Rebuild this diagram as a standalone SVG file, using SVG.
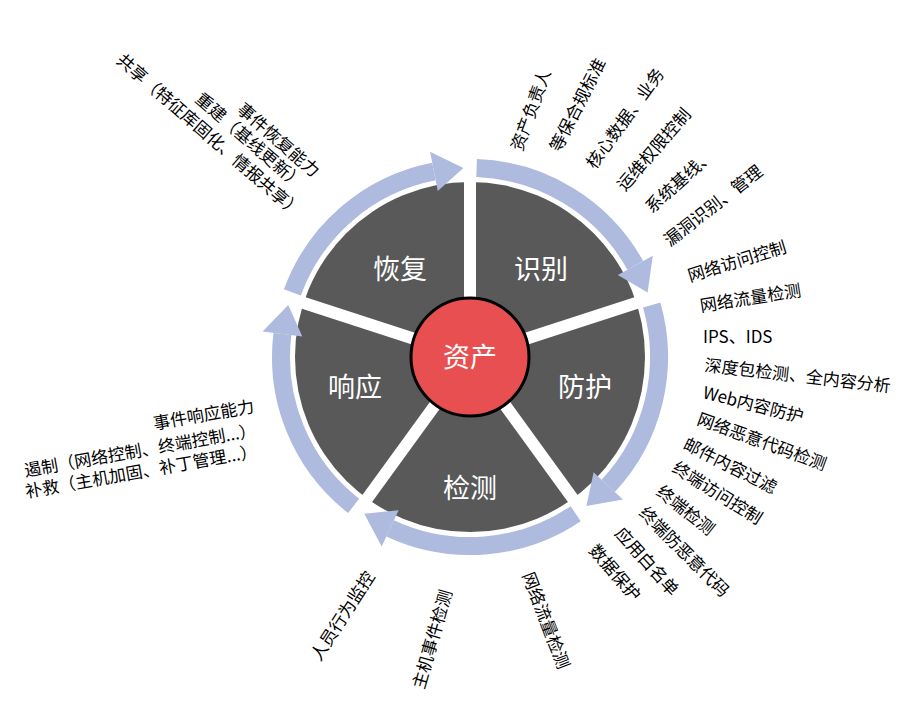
<svg xmlns="http://www.w3.org/2000/svg" width="918" height="720" viewBox="0 0 918 720">
<style>
.ring{fill:none;stroke:#aebbdf;stroke-width:18}
.head{fill:#aebbdf}
.gap{stroke:#fff;stroke-width:12}
.lbl{font-family:"Noto Sans CJK SC","Noto Sans",sans-serif;font-size:27px;fill:#fff;text-anchor:middle;dominant-baseline:central}
.t{font-family:"Noto Sans CJK SC","Noto Sans",sans-serif;font-size:17px;fill:#000}
.e{text-anchor:end}
</style>
<rect width="918" height="720" fill="#fff"/>
<g id="pie">
<circle cx="470" cy="357" r="175" fill="#595959"/>
<line class="gap" x1="470" y1="357" x2="470" y2="179"/>
<line class="gap" x1="470" y1="357" x2="639.3" y2="302"/>
<line class="gap" x1="470" y1="357" x2="574.6" y2="501"/>
<line class="gap" x1="470" y1="357" x2="365.4" y2="501"/>
<line class="gap" x1="470" y1="357" x2="300.7" y2="302"/>
</g>
<g id="connectors">
<path class="ring" d="M476.6 168.1 A189 189 0 0 1 635.3 265.4"/>
<polygon class="head" points="652.8,255.7 647.6,292.4 617.8,275.1"/>
<path class="ring" d="M651.7 304.9 A189 189 0 0 1 608.2 485.9"/>
<polygon class="head" points="622.9,499.5 586.4,505.9 593.6,472.3"/>
<path class="ring" d="M575.7 513.7 A189 189 0 0 1 390.1 528.3"/>
<polygon class="head" points="381.7,546.4 364.3,513.7 398.6,510.2"/>
<path class="ring" d="M353.6 505.9 A189 189 0 0 1 282.4 334"/>
<polygon class="head" points="262.6,331.5 288.3,304.9 302.3,336.4"/>
<path class="ring" d="M292.4 292.4 A189 189 0 0 1 433.9 171.5"/>
<polygon class="head" points="430.1,151.8 463.4,168.1 437.8,191.1"/>
</g>
<g id="n-identify"><text class="lbl" x="541" y="267">识别</text></g>
<g id="n-protect"><text class="lbl" x="585" y="385">防护</text></g>
<g id="n-detect"><text class="lbl" x="470" y="486">检测</text></g>
<g id="n-respond"><text class="lbl" x="355" y="385">响应</text></g>
<g id="n-recover"><text class="lbl" x="400" y="267">恢复</text></g>
<g id="n-asset">
<circle cx="470" cy="357" r="59" fill="#e84f51" stroke="#000" stroke-width="3"/>
<text class="lbl" x="470" y="355">资产</text>
</g>
<g id="identify-items">
<text class="t" transform="translate(522,152) rotate(-70)">资产负责人</text>
<text class="t" transform="translate(560,153) rotate(-63)">等保合规标准</text>
<text class="t" transform="translate(595,170) rotate(-54)">核心数据、业务</text>
<text class="t" transform="translate(625,192) rotate(-49)">运维权限控制</text>
<text class="t" transform="translate(652,214) rotate(-42)">系统基线、</text>
<text class="t" transform="translate(670,247) rotate(-38)">漏洞识别、管理</text>
</g>
<g id="protect-items">
<text class="t" transform="translate(690,282) rotate(-17)">网络访问控制</text>
<text class="t" transform="translate(701,312) rotate(-9)">网络流量检测</text>
<text class="t" transform="translate(703,343)">IPS、IDS</text>
<text class="t" transform="translate(704,371) rotate(6.5)">深度包检测、全内容分析</text>
<text class="t" transform="translate(702,398) rotate(14)">Web内容防护</text>
<text class="t" transform="translate(696,424) rotate(20)">网络恶意代码检测</text>
<text class="t" transform="translate(682,448) rotate(27)">邮件内容过滤</text>
<text class="t" transform="translate(671,471) rotate(32)">终端访问控制</text>
<text class="t" transform="translate(655,494) rotate(38)">终端检测</text>
<text class="t" transform="translate(638,514) rotate(45)">终端防恶意代码</text>
<text class="t" transform="translate(614,534) rotate(48)">应用白名单</text>
<text class="t" transform="translate(588,551) rotate(49)">数据保护</text>
</g>
<g id="detect-items">
<text class="t" transform="translate(320,662) rotate(-57)">人员行为监控</text>
<text class="t" transform="translate(424,690) rotate(-74)">主机事件检测</text>
<text class="t" transform="translate(522,575) rotate(69)">网络流量检测</text>
</g>
<g id="respond-items">
<text class="t e" transform="translate(255,412) rotate(-10)">事件响应能力</text>
<text class="t e" transform="translate(257,436) rotate(-10)">遏制（网络控制、终端控制...）</text>
<text class="t e" transform="translate(258,457) rotate(-10)">补救（主机加固、补丁管理...）</text>
</g>
<g id="recover-items">
<text class="t e" transform="translate(313,178) rotate(41)">事件恢复能力</text>
<text class="t e" transform="translate(297,190) rotate(41)">重建（基线更新）</text>
<text class="t e" transform="translate(295,218) rotate(41)">共享（特征库固化、情报共享）</text>
</g>
</svg>
